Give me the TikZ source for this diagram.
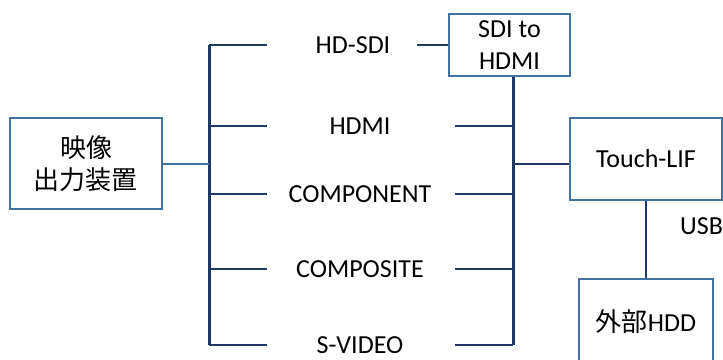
\documentclass[tikz,border=0pt]{standalone}
\usepackage{fontspec}
\setmainfont{Carlito}
\newfontfamily\cjk{Noto Sans CJK JP}
\usepackage{xcolor}
\definecolor{navy}{HTML}{1F3864}
\definecolor{boxblue}{HTML}{41719C}

\begin{document}
\begin{tikzpicture}[x=1pt, y=-1pt, font=\fontsize{26}{31.5}\selectfont,
    box/.style={draw=boxblue, line width=2pt, align=center, inner sep=0pt},
    bus/.style={draw=navy, line width=3pt},
    branch/.style={draw=navy, line width=2.6pt},
    link/.style={draw=navy, line width=2pt}]
    \useasboundingbox (0,0) rectangle (723,359);
    \clip (0,0) rectangle (723,359);

    % Boxes
    \node[box, minimum width=152pt, minimum height=91pt] (src) at (86,163.5) {{\cjk 映像}\\{\cjk 出力装置}};
    \node[box, minimum width=121pt, minimum height=62pt] (conv) at (509.5,45) {SDI to\\HDMI};
    \node[box, minimum width=152pt, minimum height=82pt] (tlif) at (646,159) {Touch-LIF};
    \node[box, minimum width=134pt, minimum height=86pt] (hdd) at (646,322) {{\cjk 外部}HDD};

    % Signal names
    \node (hdsdi) at (353,45) {HD-SDI};
    \node (hdmi) at (360,126) {HDMI};
    \node (comp) at (360,194) {COMPONENT};
    \node (cvbs) at (360,269) {COMPOSITE};
    \node (svid) at (360,345) {S-VIDEO};
    \node[anchor=west, inner sep=0pt] (usb) at (680,226) {USB};

    % Buses
    \coordinate (b1) at (209,345);
    \coordinate (b2) at (513,345);
    \draw[bus] (b1 |- hdsdi) -- (b1);
    \draw[bus] (conv.south -| b2) -- (b2);

    % Lines
    \draw[link, draw=boxblue] (src.east) -- (b1 |- src);
    \foreach \n in {hdsdi, hdmi, comp, cvbs, svid}
        \draw[branch] (b1 |- \n) -- ++(58,0);
    \foreach \n in {hdmi, comp, cvbs, svid}
        \draw[branch] (b2 |- \n) -- ++(-58,0);
    \draw[link] (conv.west) -- ++(-31,0);
    \draw[link] (b2 |- src) -- (tlif.west |- src);
    \draw[link] (tlif.south) -- (hdd.north);
\end{tikzpicture}
\end{document}
